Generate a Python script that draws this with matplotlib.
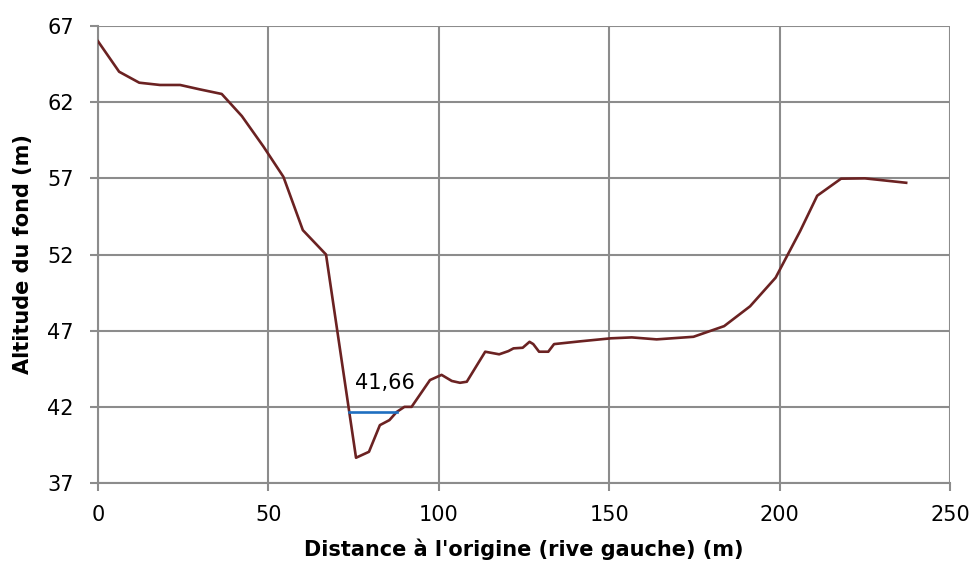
import matplotlib

matplotlib.use("Agg")
import matplotlib.pyplot as plt

# ======================= Data ==========================
# cross-section profile: distance from left bank (m) / bed altitude (m)
distance = [0, 6.2, 12.1, 18.2, 24.1, 29.9, 36.3, 42.2, 48.5, 54.4, 60.1, 66.9,
            75.7, 79.5, 82.7, 85.5, 87.6, 89.9, 92.0, 97.4, 100.8, 103.8, 106.2,
            108.2, 113.6, 117.7, 120.4, 121.9, 124.6, 126.6, 127.7, 129.4, 132.1,
            133.8, 141.4, 150.5, 156.6, 163.9, 174.7, 183.7, 191.3, 198.8, 206.0,
            211.0, 218.0, 225.0, 237.1]
altitude = [66.0, 64.0, 63.28, 63.13, 63.13, 62.84, 62.54, 61.09, 59.1, 57.1,
            53.6, 52.0, 38.66, 39.05, 40.8, 41.13, 41.66, 42.0, 42.0, 43.76,
            44.1, 43.7, 43.58, 43.65, 45.62, 45.45, 45.66, 45.84, 45.88, 46.27,
            46.12, 45.62, 45.62, 46.12, 46.3, 46.5, 46.56, 46.43, 46.6, 47.3,
            48.6, 50.48, 53.54, 55.86, 56.98, 57.0, 56.71]

# water level line
water_x = [73.7, 87.6]
water_level = 41.66
water_label = "41,66"

x_ticks = [0, 50, 100, 150, 200, 250]
y_ticks = [37, 42, 47, 52, 57, 62, 67]

# ======================= Plot ==========================
fig = plt.figure(figsize=(9.75, 5.67), dpi=100)
ax = fig.add_axes([0.1005, 0.1481, 0.874, 0.806])

grid_color = "#8c8c8c"
ax.plot(distance, altitude, color="#6b2222", linewidth=1.9, zorder=3)
ax.plot(water_x, [water_level, water_level], color="#1f6fc0", linewidth=1.9, zorder=3)
ax.text(75.3, 43.55, water_label, fontsize=15, va="center", ha="left")

ax.set_xlim(0, 250)
ax.set_ylim(37, 67)
ax.set_xticks(x_ticks)
ax.set_yticks(y_ticks)
ax.grid(True, color=grid_color, linewidth=1.5)
ax.set_axisbelow(True)

for side in ["top", "right"]:
    ax.spines[side].set_visible(False)
for side in ["left", "bottom"]:
    ax.spines[side].set_color(grid_color)
    ax.spines[side].set_linewidth(1.5)

ax.tick_params(axis="x", direction="out", length=5.5, width=1.5,
               color=grid_color, labelsize=15, pad=10)
ax.tick_params(axis="y", direction="out", length=5.5, width=1.5,
               color=grid_color, labelsize=15, pad=12)

ax.set_xlabel("Distance à l'origine (rive gauche) (m)", fontsize=15,
              fontweight="bold", labelpad=10)
ax.set_ylabel("Altitude du fond (m)", fontsize=15, fontweight="bold", labelpad=10)

fig.savefig("out.png", dpi=100)
